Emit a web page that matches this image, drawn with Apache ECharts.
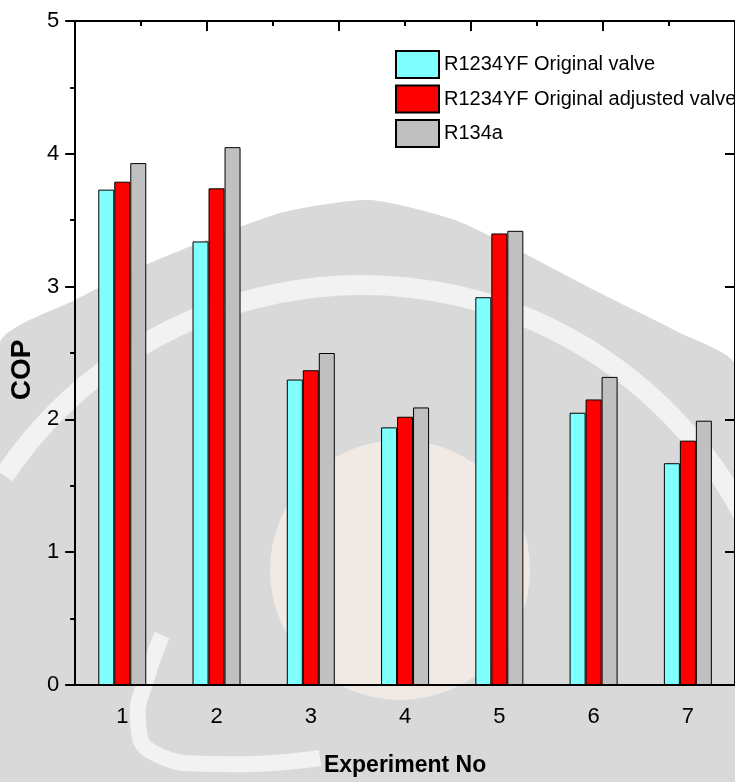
<!DOCTYPE html>
<html><head><meta charset="utf-8">
<script src="https://cdn.jsdelivr.net/npm/echarts@6/dist/echarts.min.js"></script>
<style>html,body{margin:0;padding:0;background:#fff}#c{width:735px;height:782px}</style>
</head><body><div id="c"></div>
<script>
const categories = ['1', '2', '3', '4', '5', '6', '7'];
const originalValve = [3.73, 3.34, 2.30, 1.94, 2.92, 2.05, 1.67];
const adjustedValve = [3.79, 3.74, 2.37, 2.02, 3.40, 2.15, 1.84];
const r134a = [3.93, 4.05, 2.50, 2.09, 3.42, 2.32, 1.99];
const seriesNames = ['R1234YF Original valve', 'R1234YF Original adjusted valve', 'R134a'];
const seriesColors = ['#80FFFF', '#FF0000', '#C0C0C0'];
const yMin = 0, yMax = 5, yStep = 1;

const chart = echarts.init(document.getElementById('c'), null, {renderer: 'canvas'});
const reg = '"Liberation Sans", Arial, sans-serif';
const lineBlack = {color: '#000', width: 2};
const seriesData = [originalValve, adjustedValve, r134a];

chart.setOption({
  animation: false,
  backgroundColor: '#fff',
  graphic: [{
    type: 'polygon', z: -10, silent: true,
    shape: {points: [[0, 343], [75, 300], [150, 263], [280, 213], [370, 200], [460, 222], [600, 293], [680, 333], [735, 365], [735, 782], [0, 782]], smooth: 0.2},
    style: {fill: '#d9d9d9'}
  }, {
    type: 'arc', z: -9, silent: true,
    shape: {cx: 362, cy: 716, r: 431, startAngle: -2.55, endAngle: -0.3, clockwise: true},
    style: {stroke: '#f2f2f2', lineWidth: 20, fill: null}
  }, {
    type: 'circle', z: -9, silent: true,
    shape: {cx: 400, cy: 570, r: 130},
    style: {fill: '#f1e9e4'}
  }, {
    type: 'polyline', z: -9, silent: true,
    shape: {points: [[162, 635], [146, 680], [138, 720], [152, 752], [220, 764], [320, 758]], smooth: 0.5},
    style: {stroke: '#f2f2f2', lineWidth: 16, fill: null}
  }],
  grid: {left: 75, top: 21, width: 664, height: 664, containLabel: false},
  legend: {
    orient: 'vertical', left: 390, top: 45,
    itemWidth: 43, itemHeight: 27, itemGap: 5.5,
    icon: 'rect',
    textStyle: {fontFamily: reg, fontSize: 20, color: '#000'},
    data: seriesNames
  },
  xAxis: [{
    type: 'category', data: categories, position: 'bottom',
    name: 'Experiment No', nameLocation: 'middle', nameGap: 69,
    nameTextStyle: {fontFamily: reg, fontWeight: 'bold', fontSize: 23, color: '#000'},
    axisLine: {lineStyle: lineBlack},
    axisTick: {alignWithLabel: true, length: 10, lineStyle: lineBlack},
    axisLabel: {margin: 21, fontFamily: reg, fontSize: 22, color: '#000'},
    splitLine: {show: false}
  }, {
    type: 'category', data: categories, position: 'bottom',
    axisLine: {show: false},
    axisTick: {length: 5, lineStyle: lineBlack},
    axisLabel: {show: false}, splitLine: {show: false}
  }, {
    type: 'value', min: 0, max: 5, interval: 1, position: 'top',
    axisLine: {show: true, lineStyle: lineBlack},
    axisTick: {show: true, inside: true, length: 10, lineStyle: lineBlack},
    minorTick: {show: true, splitNumber: 2, length: 5, lineStyle: lineBlack},
    axisLabel: {show: false}, splitLine: {show: false}
  }],
  yAxis: [{
    type: 'value', min: yMin, max: yMax, interval: yStep, position: 'left',
    name: 'COP', nameLocation: 'middle', nameGap: 38,
    nameTextStyle: {fontFamily: reg, fontWeight: 'bold', fontSize: 28, color: '#000', padding: [0, 34, 0, 0]},
    axisLine: {show: true, lineStyle: lineBlack},
    axisTick: {show: true, length: 10, lineStyle: lineBlack},
    minorTick: {show: true, splitNumber: 2, length: 5, lineStyle: lineBlack},
    axisLabel: {margin: 16, fontFamily: reg, fontSize: 22, color: '#000'},
    splitLine: {show: false}
  }, {
    type: 'value', min: yMin, max: yMax, interval: yStep, position: 'right',
    axisLine: {show: true, lineStyle: lineBlack},
    axisTick: {show: true, inside: true, length: 10, lineStyle: lineBlack},
    axisLabel: {show: false}, splitLine: {show: false}
  }],
  series: seriesNames.map((name, i) => ({
    name: name, type: 'bar', xAxisIndex: 0, yAxisIndex: 0,
    data: seriesData[i], barWidth: 16, barGap: '0%',
    itemStyle: {color: seriesColors[i], borderColor: '#000', borderWidth: 1}
  }))
});
</script>
</body></html>
